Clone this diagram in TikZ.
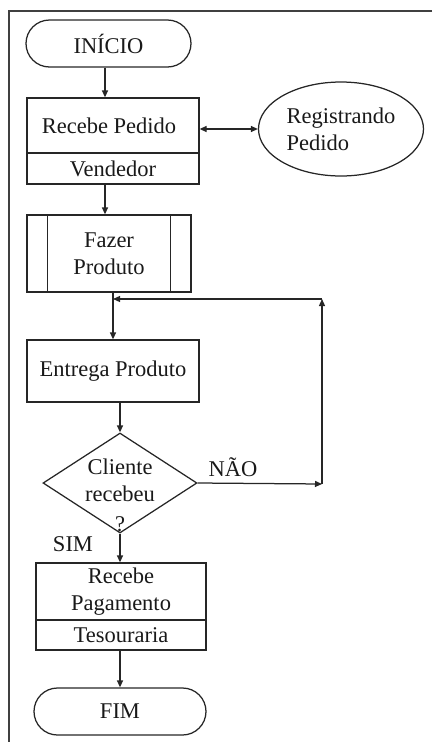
\documentclass[tikz,border=0pt]{standalone}
\usepackage{fontspec}
\setmainfont{Liberation Serif}
\usetikzlibrary{shapes.geometric,shapes.misc,arrows.meta}

\tikzset{
  ln/.style={line width=1.25pt, draw=black!85},
  arr/.style={ln, -{Triangle[length=7pt,width=6pt]}},
  darr/.style={ln, {Triangle[length=7pt,width=6pt]}-{Triangle[length=7pt,width=6pt]}},
  txt/.style={font=\fontsize{22.5}{27}\selectfont, text=black!90, inner sep=0pt},
  terminal/.style={txt, ln, rounded rectangle, rounded rectangle arc length=180},
  procbox/.style={txt, ln, rectangle, align=center},
  oval/.style={txt, ln, ellipse, align=left},
  decision/.style={ln, diamond, inner sep=0pt},
}

\begin{document}
\begin{tikzpicture}[x=1pt, y=-1pt]
  \useasboundingbox (0,0) rectangle (432,745);

  % page frame (top and left edges)
  \draw[line width=1.6pt, draw=black!75] (432,11) -- (9,11) -- (9,742);

  % start
  \node[terminal, minimum width=165pt, minimum height=47pt] (inicio) at (108.5,43.5) {INÍCIO};

  % order reception with its role
  \node[procbox, minimum width=172pt, minimum height=55pt] (recebe) at (113,125.5) {Recebe Pedido\hspace*{8pt}};
  \node[procbox, minimum width=172pt, minimum height=31pt] (vend) at (113,168.5) {Vendedor};

  \node[oval, minimum width=165pt, minimum height=94pt] (reg) at (341,129) {Registrando\\Pedido};

  % predefined process
  \node[procbox, minimum width=164pt, minimum height=77pt] (fazer) at (109,253.5) {Fazer\\Produto};
  \draw[ln] ([xshift=21pt]fazer.north west) -- ([xshift=21pt]fazer.south west);
  \draw[ln] ([xshift=-21pt]fazer.north east) -- ([xshift=-21pt]fazer.south east);

  \node[procbox, minimum width=172pt, minimum height=62pt] (entrega) at (113,371) {Entrega Produto};

  % decision
  \node[decision, minimum width=154pt, minimum height=100pt] (dec) at (120,483) {};
  \node[txt, align=center] (dectxt) at (120,495) {Cliente\\recebeu\\[3pt]?};

  \node[txt] (nao) at (233,467) {NÃO};
  \node[txt] (sim) at (73,544) {SIM};

  % payment with its role
  \node[procbox, minimum width=170pt, minimum height=57pt] (pag) at (121,591.5) {Recebe\\Pagamento};
  \node[procbox, minimum width=170pt, minimum height=30pt] (tes) at (121,635) {Tesouraria};

  % end
  \node[terminal, minimum width=172pt, minimum height=47pt] (fim) at (120,711.5) {FIM};

  % loop-back route
  \coordinate (loopdn) at (322,484);
  \coordinate (loopup) at (322,299);
  \coordinate (join) at (113,299);

  % connectors
  \draw[arr] ([xshift=-3.5pt]inicio.south) -- ([xshift=-3.5pt]inicio.south |- recebe.north);
  \draw[darr] (reg.west -| recebe.east) -- (reg.west);
  \draw[arr] ([xshift=-8pt]vend.south) -- ([xshift=-8pt]vend.south |- fazer.north);
  \draw[arr] (fazer.south -| entrega.north) -- (entrega.north);
  \draw[arr] (dec.north |- entrega.south) -- (dec.north);
  \draw[arr] (dec.east) -- (loopdn);
  \draw[arr] (loopdn) -- (loopup);
  \draw[arr] (loopup) -- (join);
  \draw[arr] (dec.south) -- (dec.south |- pag.north);
  \draw[arr] (fim.north |- tes.south) -- (fim.north);
\end{tikzpicture}
\end{document}
